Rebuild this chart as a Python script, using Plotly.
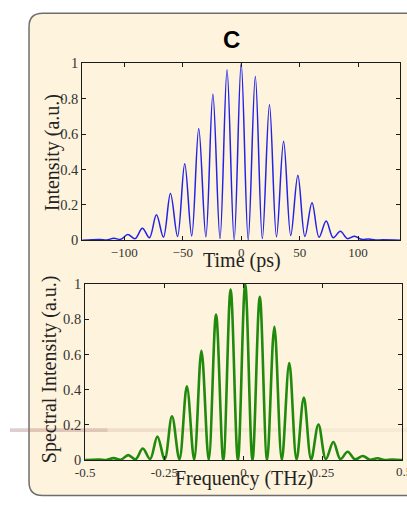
import plotly.graph_objects as go

# ---- data ----
time_ps = [-136, -121, -115, -109, -103, -97, -90.7, -84.5, -78.5, -72.5, -66.5, -60.5,
           -54.4, -48.3, -42.3, -36.3, -30.2, -24.2, -18.1, -12.1, -6, 0, 6, 12.1, 18.1,
           24.2, 30.2, 36.3, 42.4, 48.5, 54.5, 60.6, 66.6, 72.7, 78.7, 84.8, 90.9, 97,
           103, 109, 115, 121, 136]
intensity = [0.001, 0.005, 0.002, 0.012, 0.006, 0.033, 0.01, 0.069, 0.015, 0.144, 0.018,
             0.264, 0.022, 0.432, 0.025, 0.632, 0.02, 0.825, 0.01, 0.962, 0.003, 1.0,
             0.003, 0.925, 0.01, 0.765, 0.02, 0.56, 0.027, 0.368, 0.022, 0.213, 0.018,
             0.109, 0.015, 0.051, 0.01, 0.024, 0.006, 0.008, 0.002, 0.003, 0.001]

freq_thz = [-0.5, -0.456, -0.433, -0.41, -0.387, -0.364, -0.341, -0.318, -0.295, -0.272,
            -0.249, -0.226, -0.2025, -0.179, -0.156, -0.133, -0.11, -0.087, -0.064,
            -0.041, -0.018, 0.005, 0.028, 0.051, 0.074, 0.097, 0.1205, 0.144, 0.167,
            0.19, 0.213, 0.236, 0.2595, 0.283, 0.3055, 0.328, 0.352, 0.376, 0.399,
            0.422, 0.445, 0.468, 0.5]
spectral = [0.001, 0.004, 0.001, 0.012, 0.003, 0.029, 0.005, 0.066, 0.006, 0.134, 0.006,
            0.249, 0.005, 0.419, 0.003, 0.621, 0.001, 0.826, 0, 0.969, 0, 1.0, 0, 0.927,
            0, 0.757, 0.001, 0.551, 0.003, 0.355, 0.005, 0.203, 0.006, 0.103, 0.006,
            0.048, 0.005, 0.024, 0.003, 0.011, 0.001, 0.004, 0.001]

time_ticks = [-100, -50, 0, 50, 100]
freq_ticks = [-0.5, -0.25, 0, 0.25, 0.5]
freq_tick_labels = ["-0.5", "-0.25", "0", "0.25", "0.5"]
y_ticks = [0, 0.2, 0.4, 0.6, 0.8, 1]

W, H = 407, 505
def px(x):
    return x / W
def py(y):
    return 1 - y / H

CREAM = "#FEF3DC"
SERIF = "Liberation Serif"

fig = go.Figure()
fig.add_trace(go.Scatter(x=time_ps, y=intensity, mode="lines",
                         line=dict(color="#2323E6", width=1.5, shape="spline", smoothing=1),
                         xaxis="x", yaxis="y", showlegend=False, hoverinfo="skip"))
fig.add_trace(go.Scatter(x=freq_thz, y=spectral, mode="lines",
                         line=dict(color="#1F8A0C", width=2.6, shape="spline", smoothing=1),
                         xaxis="x2", yaxis="y2", showlegend=False, hoverinfo="skip"))

axis_common = dict(showline=True, linecolor="#1a1a1a", linewidth=1, mirror="ticks",
                   ticks="inside", ticklen=4, tickcolor="#1a1a1a", showgrid=False,
                   zeroline=False)
xfont = dict(family=SERIF, size=13, color="#333")
yfont = dict(family=SERIF, size=14.5, color="#333")

fig.update_layout(
    width=W, height=H, margin=dict(l=0, r=0, t=0, b=0),
    paper_bgcolor="white", plot_bgcolor="rgba(0,0,0,0)",
    xaxis=dict(domain=[px(74), px(400)], range=[-136, 136], tickvals=time_ticks,
               anchor="y", tickfont=xfont, **axis_common),
    yaxis=dict(domain=[py(240), py(57)], range=[0, 1], tickvals=y_ticks,
               anchor="x", tickfont=yfont, **axis_common),
    xaxis2=dict(domain=[px(77), px(402)], range=[-0.5, 0.5], tickvals=freq_ticks,
                ticktext=freq_tick_labels, anchor="y2", tickfont=xfont, **axis_common),
    yaxis2=dict(domain=[py(467), py(285)], range=[0, 1], tickvals=y_ticks,
                anchor="x2", tickfont=yfont, **axis_common),
)

# panel with rounded corners
L, T, R, B, r = 19.5, 5.5, 440, 503.5, 14
path = (f"M {px(L + r)},{py(T)} L {px(R)},{py(T)} L {px(R)},{py(B)} L {px(L + r)},{py(B)} "
        f"Q {px(L)},{py(B)} {px(L)},{py(B - r)} L {px(L)},{py(T + r)} "
        f"Q {px(L)},{py(T)} {px(L + r)},{py(T)} Z")
fig.add_shape(type="path", path=path, xref="paper", yref="paper", layer="below",
              fillcolor=CREAM, line=dict(color="#6e6e6e", width=1.5))

# faint horizontal streak across lower part
for x0, x1, col in [(0, 100, "rgba(165,115,115,0.35)"), (100, 200, "rgba(170,130,125,0.18)"),
                    (200, 407, "rgba(190,170,160,0.12)")]:
    fig.add_shape(type="rect", xref="paper", yref="paper", layer="below",
                  x0=px(x0), x1=px(x1), y0=py(438), y1=py(434),
                  fillcolor=col, line=dict(width=0))

ann = [
    dict(text="<b>C</b>", x=px(227), y=py(33), font=dict(family="Liberation Sans", size=24, color="black")),
    dict(text="Intensity (a.u.)", x=px(43), y=py(149), textangle=-90,
         font=dict(family=SERIF, size=20, color="#222")),
    dict(text="Time (ps)", x=px(238), y=py(261), font=dict(family=SERIF, size=20, color="#222")),
    dict(text="Spectral Intensity (a.u.)", x=px(40), y=py(373), textangle=-90,
         font=dict(family=SERIF, size=20, color="#222")),
    dict(text="Frequency (THz)", x=px(240), y=py(486), font=dict(family=SERIF, size=20, color="#222")),
    # right-most tick label, partly cut by the edge as in the reference
    dict(text="0.5", x=px(394), y=py(469), xanchor="left", yanchor="top", font=xfont),
]
for a in ann:
    a.setdefault("xanchor", "center")
    a.setdefault("yanchor", "middle")
    fig.add_annotation(xref="paper", yref="paper", showarrow=False, **a)

fig.write_html("out.html")
